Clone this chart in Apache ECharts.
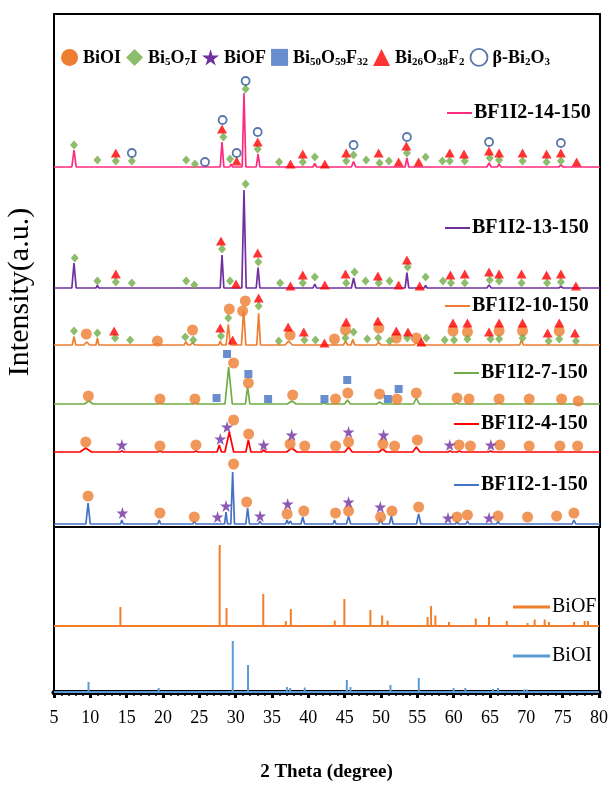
<!DOCTYPE html>
<html><head><meta charset="utf-8">
<script src="https://cdn.jsdelivr.net/npm/echarts/dist/echarts.min.js"></script>
<style>html,body{margin:0;padding:0;background:#fff}#c{width:611px;height:804px}</style>
</head><body><div id="c"></div><script>
// ---- data (2theta in degrees, intensities in arbitrary units) ----
const xMin = 5, xMax = 80, xStep = 5;
const patternNames = ['BF1I2-14-150','BF1I2-13-150','BF1I2-10-150','BF1I2-7-150','BF1I2-4-150','BF1I2-1-150'];
const patternColors = ['#FF2B7F','#7030A0','#ED7D31','#70AD47','#FF0000','#4472C4'];
const patternOffsets = [360, 239, 182, 123, 75, 3];
// peaks: [2theta, height, half width]
const peaks14 = [[7.75,17,0.3],[10.96,2,0.2],[13.49,1.5,0.2],[15.69,1,0.2],[23.12,2,0.2],[24.36,1,0.2],[28.08,25,0.25],[29.32,3,0.2],[30.09,2,0.2],[31.10,74,0.25],[33.03,13,0.25],[35.92,1.5,0.2],[39.17,1.5,0.2],[40.82,3.5,0.25],[46.15,5.5,0.3],[47.89,2,0.2],[49.72,1.5,0.2],[51.0,1.5,0.2],[53.48,9,0.25],[56.05,2,0.2],[59.36,1.5,0.2],[61.42,1.5,0.2],[64.76,4,0.3],[66.14,3,0.25],[69.36,1.5,0.2],[72.7,1.5,0.2],[74.63,2,0.3]];
const peaks13 = [[7.75,25,0.3],[10.96,2.5,0.2],[13.49,2,0.2],[23.12,2,0.2],[24.36,1,0.2],[26.1,1,0.15],[28.08,33,0.25],[29.32,2,0.2],[31.10,98,0.3],[33.03,20.5,0.25],[40.82,4,0.25],[46.15,10,0.3],[47.89,2,0.2],[53.48,15.5,0.25],[56.05,2.5,0.2],[64.76,3,0.3],[66.14,2,0.25],[74.63,1.5,0.3]];
const peaks10 = [[7.75,8.3,0.25],[9.5,3,0.4],[10.96,7,0.2],[13.26,2,0.2],[15.46,1,0.2],[19.17,1.5,0.4],[23.12,3.3,0.25],[24.03,2.5,0.3],[27.84,4,0.2],[28.94,20.7,0.3],[31.05,35,0.3],[33.11,31.7,0.25],[35.87,1.5,0.2],[37.24,4,0.5],[39.4,2,0.2],[40.92,2,0.2],[43.53,1.5,0.2],[45.04,3.5,0.3],[46.05,5.7,0.25],[49.59,3,0.3],[52.02,2,0.25],[53.58,2,0.2],[54.77,2.5,0.3],[59.81,1.5,0.2],[61.79,1.5,0.2],[64.86,2,0.25],[66.14,2,0.25],[69.22,5,0.25],[74.4,1.5,0.25]];
const peaks7 = [[9.78,3,0.6],[19.55,1,0.3],[24.36,1,0.3],[28.99,37,0.5],[31.6,17.5,0.3],[37.66,3,0.6],[42.06,1,0.3],[45.32,4,0.4],[49.72,2,0.4],[54.77,6,0.4],[60.3,1,0.3],[66.1,1,0.3]];
const peaks4 = [[9.36,4,0.8],[14.32,1,0.3],[19.55,1,0.3],[24.5,1,0.3],[27.7,7,0.3],[29.08,20,0.6],[31.7,12,0.35],[33.8,2,0.3],[37.66,4,0.7],[45.46,5,0.5],[50.14,3,0.5],[54.77,5,0.5],[59.4,1,0.3],[60.7,1,0.3],[64.97,1,0.3]];
const peaks1 = [[9.68,21,0.3],[14.32,4,0.2],[19.45,4,0.2],[24.27,3,0.2],[27.43,2,0.2],[28.63,12,0.2],[29.54,52,0.25],[31.6,16,0.25],[33.3,3,0.2],[37.01,4,0.2],[37.48,3,0.2],[39.17,7,0.25],[43.53,4,0.2],[45.46,7.5,0.3],[49.86,5,0.25],[51.33,8,0.25],[55.09,10,0.3],[59.12,2,0.2],[60.36,2.5,0.2],[61.79,3,0.2],[64.76,2,0.2],[66.0,2.5,0.2],[70.05,2,0.2],[74.04,2,0.2],[76.42,4,0.25]];
const patternPeaks = [peaks14, peaks13, peaks10, peaks7, peaks4, peaks1];

// reference cards (sticks): [2theta, height]
const refNames = ['BiOF','BiOI'];
const refColors = ['#F07F2C','#5B9BD5'];
const refOffsets = [66, 0];
const biofSticks = [[14.14,19],[27.80,81],[28.74,18],[33.80,32],[36.90,5],[37.59,17],[43.63,5.5],[44.96,27],[48.54,16],[50.16,10.5],[50.91,5.5],[56.41,9],[56.89,20],[57.48,10.5],[59.36,4],[63.04,7.5],[64.86,9],[67.32,5],[70.17,3],[71.15,6.5],[72.52,6.5],[73.12,4],[76.56,4],[78.03,5],[78.48,5]];
const bioiSticks = [[9.75,10],[19.4,4],[24.3,2],[29.6,51],[31.7,27],[33.1,2],[37.05,5],[37.5,4],[39.5,4.5],[43.6,2],[45.3,12],[45.8,5],[46.5,2],[49.8,1.5],[51.3,7],[55.2,14],[60.0,4],[60.7,2],[61.6,4],[65.4,3],[66.1,4],[66.9,2],[69.7,2.5],[70.1,2.5],[72.2,1.5],[74.2,2],[75.2,2],[76.7,2],[78.4,2],[79.3,1.5]];

// phase markers: [2theta, plot height]
const phaseNames = ['BiOI','Bi5O7I','BiOF','Bi50O59F32','Bi26O38F2','β-Bi2O3'];
const bioiMarks = [
 [9.44,193],[19.21,186],[24.03,197],[29.08,218],[31.28,226],[30.91,216],[37.43,192],[43.53,188],[45.04,197],[49.63,199],[52.02,189],[54.77,189],[59.81,196],[61.79,195],[66.14,196],[69.36,196],[74.40,196],
 [9.72,131],[19.55,128],[24.36,128],[29.67,164],[31.70,144],[37.79,132],[43.67,128],[45.36,134],[49.72,133],[52.10,128],[54.77,134],[60.36,129],[62.01,128],[66.14,128],[70.27,128],[74.72,128],[77.01,126],
 [9.36,85],[19.55,81],[24.50,82],[29.67,107],[31.74,93],[37.43,83],[39.44,81],[43.67,81],[45.46,85],[50.18,83],[51.79,81],[54.91,87],[60.64,82],[62.20,81],[66.24,82],[70.27,81],[74.49,81],[76.93,81],
 [9.68,31],[19.55,14],[24.27,10],[29.67,63],[31.46,25],[37.02,13],[39.31,16],[43.67,14],[45.46,16],[49.86,10],[51.42,16],[55.09,20],[60.36,10],[61.79,12],[66.00,11],[70.05,10],[74.04,11],[76.42,14]];
const bi5o7iMarks = [
 [7.75,382],[10.96,367],[13.49,366],[15.69,366],[23.16,367],[24.36,363],[28.26,390],[29.18,368],[31.32,438],[32.98,378],[35.92,365],[39.17,365],[40.82,370],[45.14,366],[46.15,372],[47.89,367],[49.72,364],[51.0,366],[53.48,374],[56.05,370],[58.35,366],[59.36,366],[61.42,366],[64.86,369],[66.14,367],[69.36,366],[72.66,365],[74.63,366],
 [7.85,269],[10.96,246],[13.49,245],[15.69,244],[23.16,246],[24.27,242],[28.08,278],[29.18,246],[31.32,343],[33.07,265],[36.06,244],[39.17,244],[40.82,250],[45.14,244],[46.28,255],[47.80,246],[49.59,244],[51.10,246],[53.58,260],[56.05,250],[58.43,246],[59.53,244],[61.42,244],[64.86,247],[66.14,246],[69.22,244],[72.74,244],[74.63,245],
 [7.75,196],[10.96,194],[13.39,189],[15.46,187],[23.03,190],[24.13,187],[27.94,191],[28.94,209],[33.11,221],[35.87,186],[39.40,187],[40.92,187],[45.04,189],[46.15,195],[48.03,188],[49.54,189],[51.10,186],[53.53,189],[56.15,189],[58.67,187],[59.95,187],[61.79,188],[64.96,188],[66.14,188],[69.36,189],[72.94,186],[74.40,188],[76.69,186]];
const biofMarks = [
 [14.32,82],[27.84,88],[28.77,100],[33.80,82],[37.66,92],[45.46,95],[50.27,92],[59.36,82],[65.00,82],
 [14.40,14],[27.47,10],[28.63,21],[33.31,11],[37.10,23],[45.46,25],[49.82,20],[59.12,9],[64.76,9]];
const bi50Marks = [[27.33,129],[28.77,173],[31.70,153],[34.41,128],[42.15,128],[45.28,147],[50.86,128],[52.34,138]];
const bi26Marks = [
 [13.49,374],[28.08,398],[30.09,366],[32.98,385],[37.48,363],[39.17,373],[42.20,363],[45.14,374],[49.59,374],[52.34,365],[53.40,381],[55.09,365],[59.36,374],[61.32,373],[64.76,376],[66.14,374],[69.36,374],[72.66,373],[74.63,374],[76.79,365],
 [13.49,253],[27.94,286],[30.00,243],[32.98,274],[37.48,241],[39.17,252],[42.20,242],[45.04,253],[49.49,251],[52.34,242],[53.48,267],[55.23,241],[59.45,252],[61.42,253],[64.76,255],[66.14,253],[69.22,253],[72.66,252],[74.63,253],[76.69,241],
 [13.26,196],[27.84,199],[29.54,187],[33.11,229],[37.16,200],[39.31,195],[42.15,184],[45.14,205],[49.49,206],[52.02,196],[53.62,195],[55.46,185],[59.81,204],[61.79,204],[64.76,195],[66.14,204],[69.36,204],[72.80,194],[74.40,204],[76.56,194]];
const betaMarks = [[15.69,374],[25.74,365],[28.16,407],[30.09,374],[31.32,446],[32.98,395],[46.15,382],[53.48,390],[64.76,385],[74.63,384]];

// ---- build ----
const SERIF = '"Liberation Serif","Times New Roman",serif';
function profile(peaks, off) {
  const pts = [[xMin, off]];
  peaks.forEach(([c, h, w]) => { pts.push([c - w, off], [c, off + h], [c + w, off]); });
  pts.push([xMax, off]);
  return pts;
}
function sticks(list, off) {
  const pts = [[xMin, off]];
  list.forEach(([c, h]) => { pts.push([c, off], [c, off + h], [c, off]); });
  pts.push([xMax, off]);
  return pts;
}
const starPath = 'path://M50,0 L61,35 L98,35 L68,57 L79,91 L50,70 L21,91 L32,57 L2,35 L39,35 Z';
const phaseStyle = [
  {symbol:'circle', size:11, item:{color:'#ED7D31'}},
  {symbol:'diamond', size:[8,9], item:{color:'#70AD47'}},
  {symbol:starPath, size:12, item:{color:'#7030A0'}},
  {symbol:'rect', size:8, item:{color:'#4472C4'}},
  {symbol:'triangle', size:[10,9], item:{color:'#FF0000'}},
  {symbol:'circle', size:8, item:{color:'#fff', borderColor:'#2F5597', borderWidth:1.8}}
];
const phaseData = [bioiMarks, bi5o7iMarks, biofMarks, bi50Marks, bi26Marks, betaMarks];

const series = [];
patternPeaks.forEach((pk, i) => {
  series.push({type:'line', name:patternNames[i], xAxisIndex:0, yAxisIndex:0, data:profile(pk, patternOffsets[i]),
    showSymbol:false, silent:true, lineStyle:{color:patternColors[i], width:1.7}, z:2});
});
[biofSticks, bioiSticks].forEach((s, i) => {
  series.push({type:'line', name:refNames[i], xAxisIndex:1, yAxisIndex:1, data:sticks(s, refOffsets[i]),
    showSymbol:false, silent:true, lineStyle:{color:refColors[i], width:2}, z:2});
});
phaseNames.forEach((n, i) => {
  series.push({type:'scatter', name:n, xAxisIndex:0, yAxisIndex:0, data:phaseData[i],
    symbol:phaseStyle[i].symbol, symbolSize:phaseStyle[i].size, itemStyle:phaseStyle[i].item, z:5});
});

const legendFmt = {
  'BiOI':'{n|BiOI}',
  'Bi5O7I':'{n|Bi}{s|5}{n|O}{s|7}{n|I}',
  'BiOF':'{n|BiOF}',
  'Bi50O59F32':'{n|Bi}{s|50}{n|O}{s|59}{n|F}{s|32}',
  'Bi26O38F2':'{n|Bi}{s|26}{n|O}{s|38}{n|F}{s|2}',
  'β-Bi2O3':'{n|β-Bi}{s|2}{n|O}{s|3}'
};
const legendIcons = ['circle','diamond',starPath,'rect','triangle','circle'];

const graphic = [];
const lab = [[447,113],[445,228],[445,306],[454,373],[454,424],[454,485]];
patternNames.forEach((n, i) => {
  const [x, y] = lab[i];
  graphic.push({type:'line', shape:{x1:x, y1:y, x2:x+25, y2:y}, style:{stroke:patternColors[i], lineWidth:2}, z:10});
  graphic.push({type:'text', x:x+27, y:y, style:{text:n, font:'bold 20px ' + SERIF, fill:'#000', verticalAlign:'middle'}, z:10});
});
const refLab = [[513,607],[513,656]];
refNames.forEach((n, i) => {
  const [x, y] = refLab[i];
  graphic.push({type:'line', shape:{x1:x, y1:y, x2:x+37, y2:y}, style:{stroke:refColors[i], lineWidth:3}, z:10});
  graphic.push({type:'text', x:x+39, y:y, style:{text:n, font:'20px ' + SERIF, fill:'#000', verticalAlign:'middle'}, z:10});
});
graphic.push({type:'text', x:20, y:292, rotation:Math.PI/2, style:{text:'Intensity(a.u.)', font:'30px ' + SERIF, fill:'#000', align:'center', verticalAlign:'middle'}});

const chart = echarts.init(document.getElementById('c'), null, {renderer:'canvas'});
chart.setOption({
  animation:false,
  backgroundColor:'#fff',
  grid:[
    {left:54, right:11, top:14, height:513, show:true, borderColor:'#000', borderWidth:2, backgroundColor:'transparent'},
    {left:54, right:11, top:527, height:165, show:true, borderColor:'#000', borderWidth:2, backgroundColor:'transparent'}
  ],
  xAxis:[
    {gridIndex:0, type:'value', min:xMin, max:xMax, interval:xStep, axisLine:{show:false}, axisTick:{show:false}, axisLabel:{show:false}, splitLine:{show:false}},
    {gridIndex:1, type:'value', min:xMin, max:xMax, interval:xStep,
     axisLine:{show:true, lineStyle:{color:'#000', width:5}},
     axisTick:{show:true, length:6, lineStyle:{color:'#000', width:3}},
     minorTick:{show:true, splitNumber:5, length:4, lineStyle:{color:'#000', width:1.5}},
     axisLabel:{color:'#000', fontFamily:SERIF, fontSize:18, margin:17},
     splitLine:{show:false},
     name:'2 Theta (degree)', nameLocation:'middle', nameGap:71,
     nameTextStyle:{color:'#000', fontFamily:SERIF, fontWeight:'bold', fontSize:19}}
  ],
  yAxis:[
    {gridIndex:0, type:'value', min:0, max:513, show:false},
    {gridIndex:1, type:'value', min:0, max:165, show:false}
  ],
  legend:{
    top:43, left:'center', itemGap:5, itemWidth:17, itemHeight:17,
    data: phaseNames.map((n, i) => ({name:n, icon:legendIcons[i], itemStyle: phaseStyle[i].item})),
    formatter: n => legendFmt[n],
    textStyle:{color:'#000', fontFamily:SERIF, fontWeight:'bold', fontSize:18,
      rich:{
        n:{fontFamily:SERIF, fontWeight:'bold', fontSize:18, color:'#000', lineHeight:20, verticalAlign:'bottom'},
        s:{fontFamily:SERIF, fontWeight:'bold', fontSize:11, color:'#000', lineHeight:13, verticalAlign:'bottom'}
      }},
    selectedMode:false
  },
  graphic: graphic,
  series: series
});
</script></body></html>
